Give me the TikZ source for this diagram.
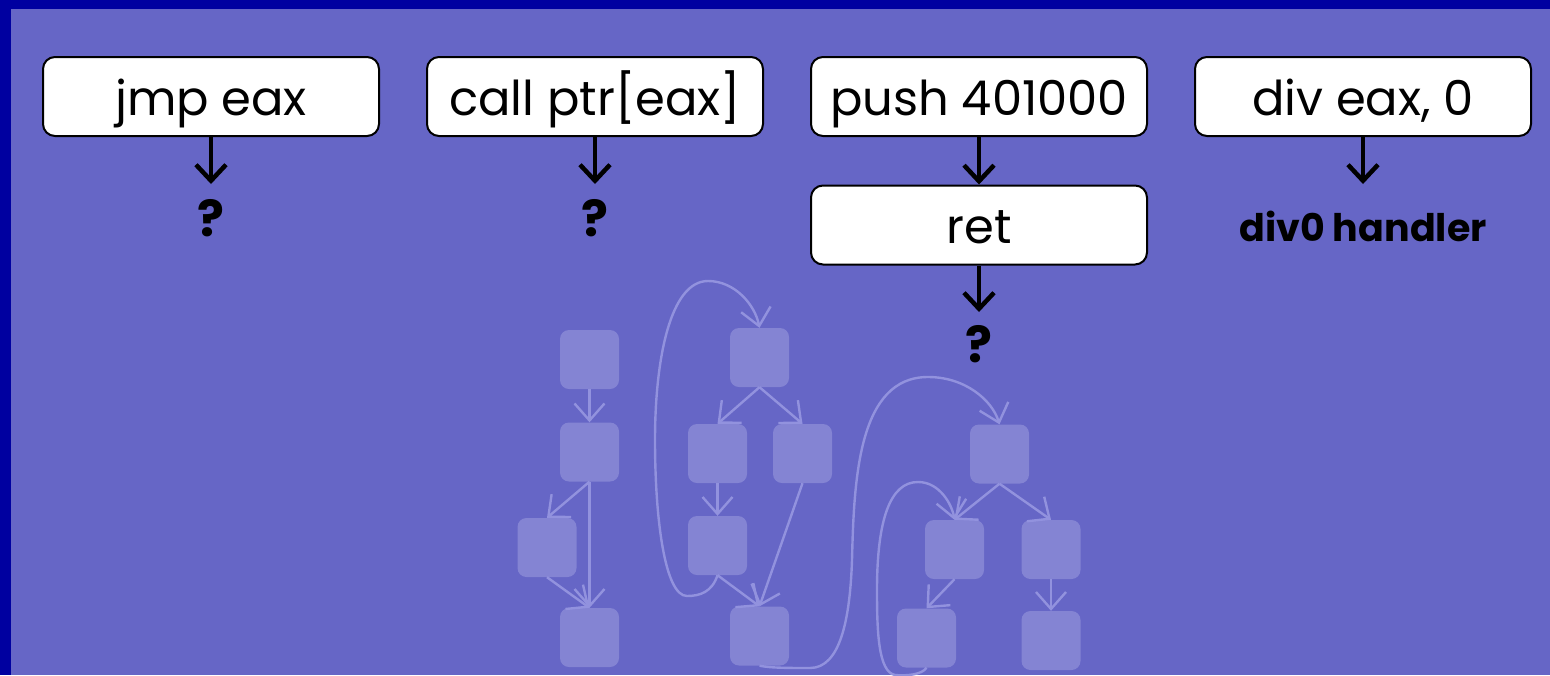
\documentclass[tikz,border=0pt]{standalone}
\usepackage{fontspec}
\setmainfont{Poppins}
\usetikzlibrary{arrows.meta}
\definecolor{bgdark}{HTML}{0000A0}
\definecolor{bglight}{HTML}{6666C6}
\definecolor{faint}{HTML}{8484D3}
\definecolor{faintline}{HTML}{9292DE}
\tikzset{
  insbox/.style={draw=black, line width=2pt, fill=white, rounded corners=12pt,
    minimum width=336pt, minimum height=79pt, inner sep=0pt,
    text height=44pt, text depth=7pt,
    font=\fontsize{48}{52}\selectfont},
  qmark/.style={font=\bfseries\fontsize{50}{54}\selectfont, inner sep=0pt},
  hlabel/.style={font=\bfseries\fontsize{38}{42}\selectfont, inner sep=0pt},
  blkarr/.style={line width=4.5pt, -{Straight Barb[length=16pt,width=30pt,line width=4.5pt]}},
  fbox/.style={fill=faint, rounded corners=9pt, minimum size=59pt, inner sep=0pt},
  farr/.style={draw=faintline, line width=2.4pt, -{Straight Barb[length=17pt,width=30pt,line width=2.4pt]}}
}
\begin{document}
\begin{tikzpicture}[x=1pt,y=-1pt]
\useasboundingbox (0,0) rectangle (1550,675);
\clip (0,0) rectangle (1550,675);
\fill[bgdark] (0,0) rectangle (1550,675);
\fill[bglight] (11,9) rectangle (1550,675);

% faint background graph
\node[fbox] (A1) at (589.5,359.5) {};
\node[fbox] (A2) at (589.5,452) {};
\node[fbox] (A3) at (547,547.5) {};
\node[fbox] (A4) at (589.5,637.5) {};
\node[fbox] (B1) at (759.5,357.5) {};
\node[fbox] (B2) at (717.5,453.5) {};
\node[fbox] (B3) at (802.5,453.5) {};
\node[fbox] (B4) at (717.5,545.5) {};
\node[fbox] (B5) at (759.5,636) {};
\node[fbox] (C1) at (999.5,454) {};
\node[fbox] (C2) at (954.5,549.5) {};
\node[fbox] (C3) at (1051,549.5) {};
\node[fbox] (C4) at (926.5,638) {};
\node[fbox] (C5) at (1051,640.5) {};

\draw[farr] (A1.south) -- (A2.north);
\draw[farr] (A2.south) -- (A3.north);
\draw[farr] (A2.south) -- (A4.north);
\draw[farr] (A3.south) -- (A4.north);
\draw[farr] (B1.south) -- (B2.north);
\draw[farr] (B1.south) -- (B3.north);
\draw[farr] (B2.south) -- (B4.north);
\draw[farr] (B3.south) -- (B5.north);
\draw[farr] (B4.south) -- (B5.north);
\draw[farr] (C1.south) -- (C2.north);
\draw[farr] (C1.south) -- (C3.north);
\draw[farr] (C2.south) -- (C4.north);
\draw[farr] (C3.south) -- (C5.north);

\draw[farr] (B4.south) .. controls (712,592) and (700,596) .. (687,596)
  .. controls (665,596) and (655,520) .. (655,440)
  .. controls (655,360) and (670,281) .. (708,281)
  .. controls (735,281) and (755,305) .. (B1.north);
\draw[farr] (B5.south) .. controls (770,668) and (790,668) .. (810,668)
  .. controls (840,668) and (850,620) .. (852,560)
  .. controls (854,480) and (858,377) .. (928,377)
  .. controls (965,377) and (992,400) .. (C1.north);
\draw[farr] (C4.south) .. controls (922,675) and (905,676) .. (895,675)
  .. controls (878,672) and (877,630) .. (877,590)
  .. controls (877,520) and (890,482) .. (918,482)
  .. controls (940,482) and (952,505) .. (C2.north);

% instruction boxes
\node[insbox] (b1) at (211,96.5) {jmp eax};
\node[insbox] (b2) at (595,96.5) {call ptr[eax]};
\node[insbox] (b3) at (979,96.5) {push 401000};
\node[insbox] (b4) at (1363,96.5) {div eax, 0};
\node[insbox] (r3) at (979,225) {ret};

\node[qmark] (q1) at (211,218) {?};
\node[qmark] (q2) at (595,218) {?};
\node[qmark] (q3) at (979,344) {?};
\node[hlabel] (h4) at (1363,226) {div0 handler};

\coordinate (t1) at (211,184);
\coordinate (t2) at (595,184);
\coordinate (t4) at (1363,184);
\coordinate (t3) at (979,312);

\draw[blkarr] (b1.south) -- (t1);
\draw[blkarr] (b2.south) -- (t2);
\draw[blkarr] (b4.south) -- (t4);
\draw[blkarr] (b3.south) -- (r3.north);
\draw[blkarr] (r3.south) -- (t3);
\end{tikzpicture}
\end{document}
